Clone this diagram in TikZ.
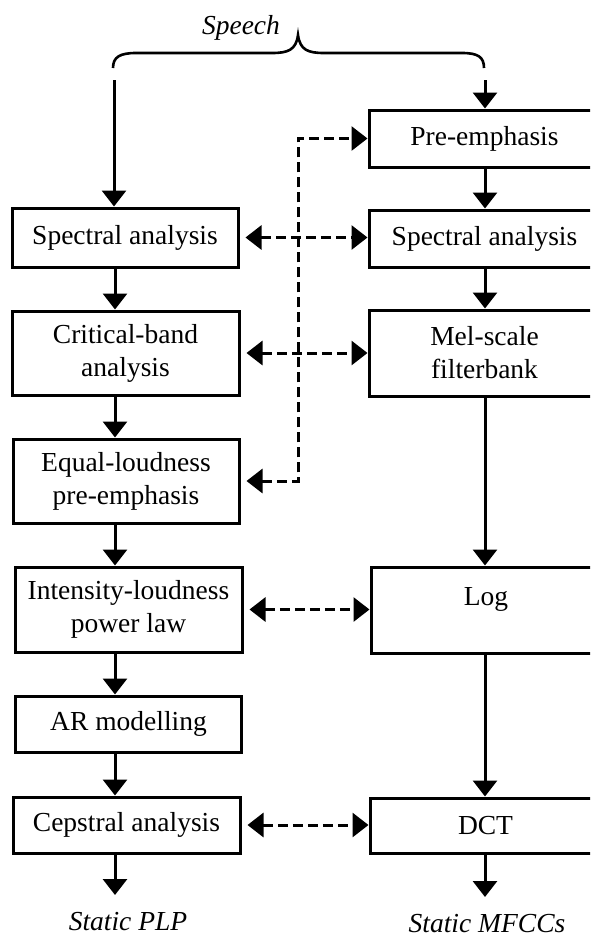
\documentclass[tikz,border=0pt]{standalone}
\usepackage{fontspec}
\setmainfont{Liberation Serif}
\usetikzlibrary{arrows.meta}
\begin{document}
\begin{tikzpicture}[x=1pt,y=-1pt,
  box/.style={draw, line width=3pt, inner sep=0pt, align=center, font=\fontsize{27.5}{33}\selectfont},
  lbl/.style={font=\fontsize{27.5}{33}\selectfont\itshape, inner sep=0pt},
  flow/.style={line width=3pt, -{Triangle[width=24pt,length=16pt]}},
  link/.style={line width=3pt, dash pattern=on 10pt off 5pt,
    {Triangle[width=24pt,length=16pt]}-{Triangle[width=24pt,length=16pt]}, shorten <=6pt}]
\useasboundingbox (0,0) rectangle (590,938);
\fill[white] (0,0) rectangle (590,938);
\clip (0,0) rectangle (590,938);
% helper coordinates
\coordinate (lx) at (115,0);
\coordinate (rx) at (485,0);
\coordinate (vx) at (298,0);
\coordinate (bl) at (113,68);
\coordinate (bt) at (298,35);
\coordinate (br) at (484,68);
\coordinate (sl) at (114,80);
\coordinate (sr) at (485,80);
\coordinate (lout) at (115,895);
\coordinate (rout) at (485,897);
% labels
\node[lbl] (speech) at (241,28) {Speech};
\node[lbl] (plp) at (128,922) {Static PLP};
\node[lbl] (mfcc) at (487,924) {Static MFCCs};
% left column
\node[box, minimum width=226, minimum height=59] (lspec) at (125,237.5) {Spectral analysis};
\node[box, minimum width=227, minimum height=84] (lcrit) at (125.5,353) {Critical-band\\analysis};
\node[box, minimum width=226, minimum height=84] (lequal) at (126,481) {Equal-loudness\\pre-emphasis};
\node[box, minimum width=227, minimum height=85] (lint) at (128.5,609.5) {Intensity-loudness\\power law};
\node[box, minimum width=226, minimum height=56] (lar) at (128.5,724) {AR modelling};
\node[box, minimum width=227, minimum height=56] (lcep) at (126.5,825) {Cepstral analysis};
% right column
\node[box, minimum width=231, minimum height=57] (rpre) at (484.5,138.5) {Pre-emphasis};
\node[box, minimum width=231, minimum height=57] (rspec) at (484.5,238.5) {Spectral analysis};
\node[box, minimum width=231, minimum height=86] (rmel) at (484.5,353) {Mel-scale\\filterbank};
\node[box, minimum width=230, minimum height=86,
  label={[yshift=11pt, font=\fontsize{27.5}{33}\selectfont]center:Log}] (rlog) at (486,610) {};
\node[box, minimum width=231, minimum height=55] (rdct) at (485.5,825.5) {DCT};
% brace
\draw[line width=2.6pt] (bl) .. controls (113,57) and (120,53) .. (136,53) -- (272,53)
  .. controls (288,53) and (296,50) .. (bt) .. controls (300,50) and (308,53) .. (324,53)
  -- (462,53) .. controls (478,53) and (484,57) .. (br);
% input arrows
\draw[flow] (sl) -- (lspec.north -| sl);
\draw[flow] (sr) -- (rpre.north -| sr);
% left flow
\draw[flow] (lspec.south -| lx) -- (lcrit.north -| lx);
\draw[flow] (lcrit.south -| lx) -- (lequal.north -| lx);
\draw[flow] (lequal.south -| lx) -- (lint.north -| lx);
\draw[flow] (lint.south -| lx) -- (lar.north -| lx);
\draw[flow] (lar.south -| lx) -- (lcep.north -| lx);
\draw[flow] (lcep.south -| lx) -- (lout);
% right flow
\draw[flow] (rpre.south -| rx) -- (rspec.north -| rx);
\draw[flow] (rspec.south -| rx) -- (rmel.north -| rx);
\draw[flow] (rmel.south -| rx) -- (rlog.north -| rx);
\draw[flow] (rlog.south -| rx) -- (rdct.north -| rx);
\draw[flow] (rdct.south -| rx) -- (rout);
% dashed links
\draw[link] (lspec.east) -- (lspec.east -| rspec.west);
\draw[link] (lcrit.east) -- (lcrit.east -| rmel.west);
\draw[link] (lint.east) -- (lint.east -| rlog.west);
\draw[link] (lcep.east) -- (lcep.east -| rdct.west);
\draw[link] (lequal.east) -| (vx |- rpre.west) -- (rpre.west);
\end{tikzpicture}
\end{document}
